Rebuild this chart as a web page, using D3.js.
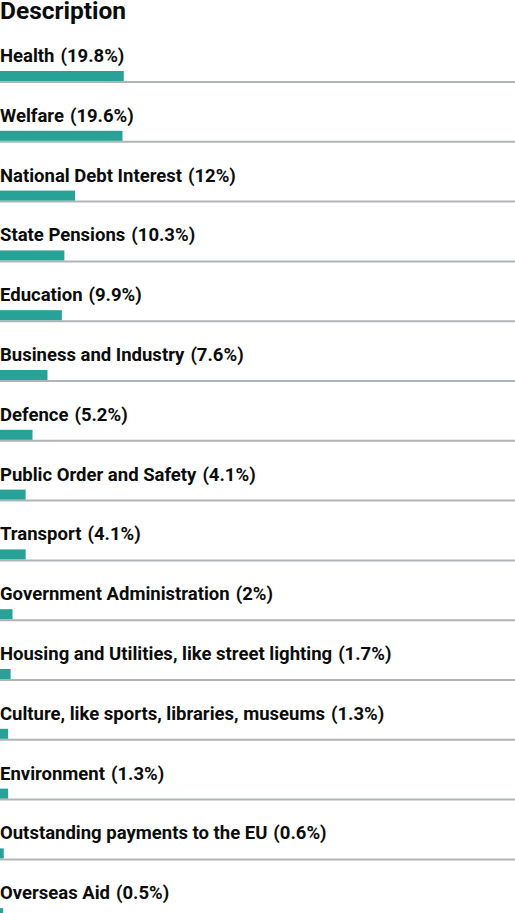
<!DOCTYPE html>
<html>
    <head>
        <title></title>
        <meta http-equiv="Content-Type" content="text/html; charset=UTF-8">
        <script src="https://d3js.org/d3.v7.min.js" charset="utf-8"></script>
        <style>
            body { margin: 0; background: #fff; }
            text { font-family: Roboto, "Liberation Sans", Arial, sans-serif; fill: #0b0c0c; }
            .title { font-size: 24.5px; font-weight: bold; }
            .label { font-size: 18.5px; font-weight: bold; }
        </style>
    </head>
    <body>
        <div id="svgcontainer"></div>
        <script>
            // Spending categories and their share of the total (%)
            var categories = [
                "Health",
                "Welfare",
                "National Debt Interest",
                "State Pensions",
                "Education",
                "Business and Industry",
                "Defence",
                "Public Order and Safety",
                "Transport",
                "Government Administration",
                "Housing and Utilities, like street lighting",
                "Culture, like sports, libraries, museums",
                "Environment",
                "Outstanding payments to the EU",
                "Overseas Aid"
            ];
            var values = [19.8, 19.6, 12, 10.3, 9.9, 7.6, 5.2, 4.1, 4.1, 2, 1.7, 1.3, 1.3, 0.6, 0.5];
            var valueLabels = ["19.8%", "19.6%", "12%", "10.3%", "9.9%", "7.6%", "5.2%", "4.1%", "4.1%", "2%", "1.7%", "1.3%", "1.3%", "0.6%", "0.5%"];

            var data = categories.map(function (c, i) {
                return { name: c, value: values[i], label: valueLabels[i] };
            });

            // Declarations
            var w = 515;
            var h = 913;
            var rowTop = 42;
            var rowStep = 59.8;
            var barHeight = 10;

            var svg = d3.select("#svgcontainer")
                .append("svg")
                .attr("width", w)
                .attr("height", h);

            // one band per category, stacked top to bottom
            var y = d3.scaleBand()
                .domain(categories)
                .range([rowTop, rowTop + rowStep * categories.length])
                .paddingInner(0)
                .paddingOuter(0);

            // bar length: the bars never get near the full width
            var x = d3.scaleLinear()
                .domain([0, 80])
                .range([0, 500]);

            svg.append("text")
                .classed("title", true)
                .attr("x", 0)
                .attr("y", 19)
                .text("Description");

            var row = svg.selectAll(".row")
                .data(data)
                .enter()
                .append("g")
                .classed("row", true)
                .attr("transform", function (d) {
                    return "translate(0," + y(d.name) + ")";
                });

            // category name and value
            var label = row.append("text")
                .classed("label", true)
                .attr("x", 0)
                .attr("y", 20);
            label.append("tspan").text(function (d) { return d.name; });
            label.append("tspan")
                .attr("dx", 6)
                .text(function (d) { return "(" + d.label + ")"; });

            // divider under each row
            row.append("line")
                .attr("x1", 0)
                .attr("x2", w)
                .attr("y1", 40)
                .attr("y2", 40)
                .style("stroke", "#b1b4b6")
                .style("stroke-width", 2);

            // the bar itself
            row.append("rect")
                .attr("x", 0)
                .attr("y", 29)
                .attr("width", function (d) { return x(d.value); })
                .attr("height", barHeight)
                .attr("fill", "#28a197");
        </script>
    </body>
</html>
